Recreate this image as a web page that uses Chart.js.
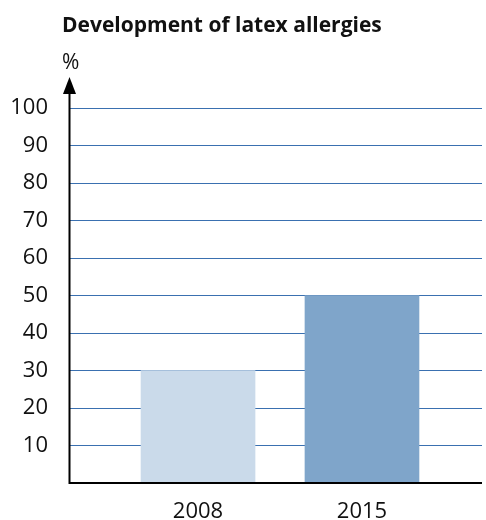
<!DOCTYPE html>
<html>
<head>
<meta charset="utf-8">
<script src="https://cdn.jsdelivr.net/npm/chart.js@4.4.1/dist/chart.umd.min.js"></script>
<style>
  html, body { margin: 0; padding: 0; background: #fff; }
  #wrap { width: 486px; height: 520px; }
</style>
</head>
<body>
<div id="wrap"><canvas id="chart" width="486" height="520"></canvas></div>
<script>
const title = 'Development of latex allergies';
const unitLabel = '%';
const categories = ['2008', '2015'];
const values = [30, 50];
const barColors = ['#cadaea', '#7fa5ca'];
const yTicks = [10, 20, 30, 40, 50, 60, 70, 80, 90, 100];

const FONT = '"Open Sans", sans-serif';

// axes, arrow, title and unit label on top
const decorations = {
  id: 'decorations',
  afterDatasetsDraw(chart) {
    const ctx = chart.ctx;
    const area = chart.chartArea;
    const ax = 69.5;
    ctx.save();
    ctx.strokeStyle = '#000';
    ctx.lineWidth = 2;
    ctx.beginPath();
    ctx.moveTo(ax, area.bottom + 1);
    ctx.lineTo(ax, 90);
    ctx.moveTo(ax - 1, area.bottom);
    ctx.lineTo(area.right, area.bottom);
    ctx.stroke();

    ctx.fillStyle = '#000';
    ctx.beginPath();
    ctx.moveTo(ax, 77);
    ctx.lineTo(ax + 6.5, 94);
    ctx.lineTo(ax - 6.5, 94);
    ctx.closePath();
    ctx.fill();

    ctx.fillStyle = '#111';
    ctx.textBaseline = 'alphabetic';
    ctx.font = 'bold 21px ' + FONT;
    ctx.fillText(title, 62, 32);
    ctx.font = '21px ' + FONT;
    ctx.fillText(unitLabel, 62, 69);
    ctx.restore();
  }
};

new Chart(document.getElementById('chart'), {
  type: 'bar',
  data: {
    datasets: [{
      data: values.map((v, i) => ({ x: i, y: v })),
      backgroundColor: barColors,
      borderWidth: 0,
      barThickness: 114
    }]
  },
  options: {
    responsive: false,
    animation: false,
    layout: { padding: { top: 108, right: 4, left: 0, bottom: 0 } },
    plugins: { legend: { display: false }, tooltip: { enabled: false } },
    scales: {
      x: {
        type: 'linear',
        offset: false,
        min: -0.787,
        max: 1.732,
        grid: { display: false, drawTicks: false, offset: false },
        border: { display: false },
        afterBuildTicks(scale) {
          scale.ticks = categories.map((c, i) => ({ value: i }));
        },
        afterFit(scale) { scale.height = 37; },
        ticks: {
          autoSkip: false,
          padding: 16,
          color: '#111',
          font: { family: FONT, size: 22 },
          callback: (v) => categories[v]
        }
      },
      y: {
        min: 0,
        max: 100,
        afterBuildTicks(scale) {
          scale.ticks = [0].concat(yTicks).map(v => ({ value: v }));
        },
        afterFit(scale) { scale.width = 69; },
        grid: { color: '#3a70b0', lineWidth: 1, drawTicks: false },
        border: { display: false },
        ticks: {
          padding: 21,
          color: '#111',
          font: { family: FONT, size: 22 },
          callback: (v) => (v === 0 ? '' : String(v))
        }
      }
    }
  },
  plugins: [decorations]
});
</script>
</body>
</html>
